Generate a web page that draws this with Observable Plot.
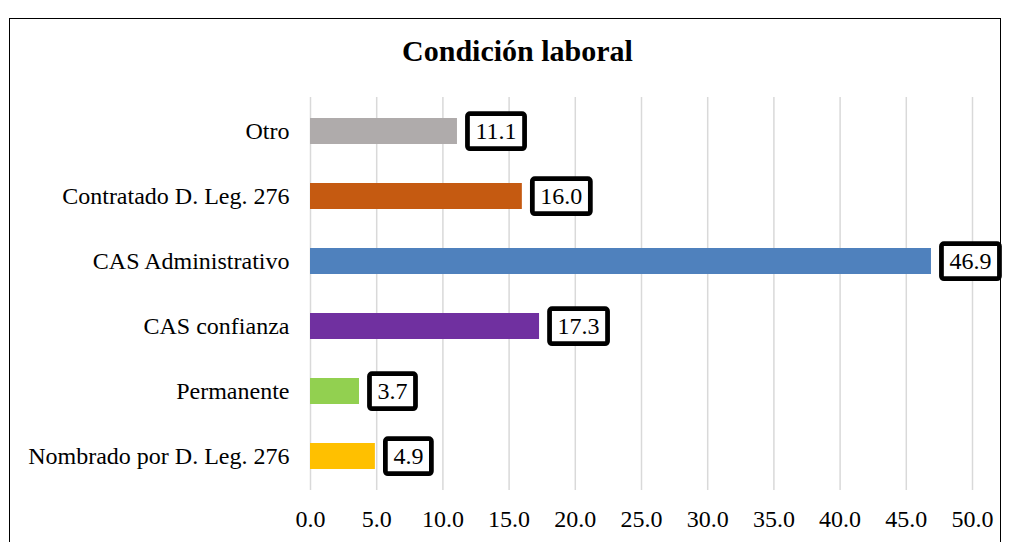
<!DOCTYPE html>
<html>
<head>
<meta charset="utf-8">
<script src="https://cdn.jsdelivr.net/npm/d3@7"></script>
<script src="https://cdn.jsdelivr.net/npm/@observablehq/plot@0.6"></script>
<style>
  html, body { margin: 0; padding: 0; background: #fff; }
  #wrap { position: relative; width: 1011px; height: 542px; overflow: hidden; font-family: "Liberation Serif", "Times New Roman", serif; }
  #frame { position: absolute; left: 9px; top: 18px; width: 992px; height: 600px; border: 1.5px solid #000; box-sizing: border-box; }
  #title { position: absolute; left: 12px; top: 33px; width: 1011px; text-align: center; font-size: 30px; line-height: 36px; font-weight: bold; color: #000; }
  #chart { position: absolute; left: 0; top: 0; }
</style>
</head>
<body>
<div id="wrap">
  <div id="frame"></div>
  <div id="title">Condición laboral</div>
  <div id="chart"></div>
</div>
<script>
const categories = ["Otro", "Contratado D. Leg. 276", "CAS Administrativo", "CAS confianza", "Permanente", "Nombrado por D. Leg. 276"];
const values = [11.1, 16.0, 46.9, 17.3, 3.7, 4.9];
const colors = ["#AFABAB", "#C55A11", "#4F81BD", "#7030A0", "#92D050", "#FFC000"];
const xTicks = [0, 5, 10, 15, 20, 25, 30, 35, 40, 45, 50];

const data = categories.map((c, i) => ({category: c, value: values[i]}));

const chart = Plot.plot({
  width: 1011,
  height: 542,
  marginLeft: 310,
  marginRight: 39,
  marginTop: 97,
  marginBottom: 52,
  style: {fontFamily: '"Liberation Serif", "Times New Roman", serif', fontSize: "24px", color: "#000", background: "transparent", overflow: "visible"},
  x: {domain: [0, 50], ticks: xTicks, tickFormat: d => d.toFixed(1), label: null},
  y: {domain: categories, paddingInner: 0.6, paddingOuter: 0.3, label: null},
  color: {domain: categories, range: colors},
  marks: [
    Plot.gridX(xTicks, {stroke: "#D9D9D9", strokeOpacity: 1, strokeWidth: 1.5}),
    Plot.barX(data, {x: "value", y: "category", fill: "category"}),
    Plot.text(data, {x: "value", y: "category", text: d => d.value.toFixed(1), textAnchor: "start", dx: 18, fontSize: 24, fill: "#000", className: "vlabels"}),
    Plot.axisX({ticks: xTicks, tickFormat: d => d.toFixed(1), tickSize: 0, tickPadding: 19, fontSize: 24, label: null}),
    Plot.axisY({tickSize: 0, tickPadding: 21, fontSize: 24, label: null})
  ]
});
document.getElementById("chart").appendChild(chart);

const svgns = "http://www.w3.org/2000/svg";
document.querySelectorAll("g.vlabels text").forEach(t => {
  const b = t.getBBox();
  const r = document.createElementNS(svgns, "rect");
  const padX = 8, h = 35;
  r.setAttribute("x", b.x - padX);
  r.setAttribute("y", b.y + b.height / 2 - h / 2);
  r.setAttribute("width", b.width + 2 * padX);
  r.setAttribute("height", h);
  r.setAttribute("rx", 2.5);
  r.setAttribute("fill", "#fff");
  r.setAttribute("stroke", "#000");
  r.setAttribute("stroke-width", 4.75);
  const tr = t.getAttribute("transform");
  if (tr) r.setAttribute("transform", tr);
  t.parentNode.insertBefore(r, t);
});
</script>
</body>
</html>
